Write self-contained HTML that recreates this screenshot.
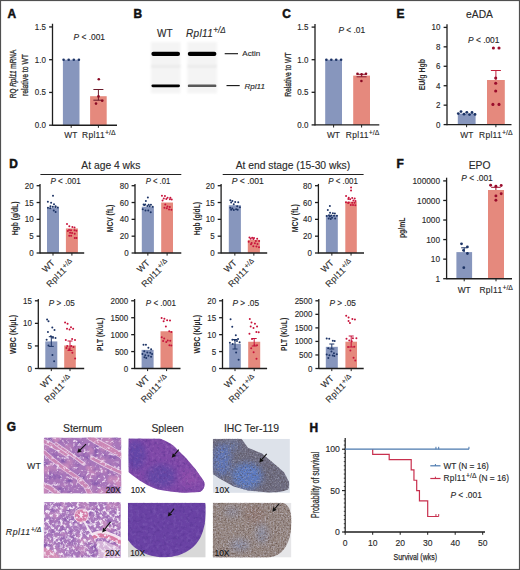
<!DOCTYPE html>
<html><head><meta charset="utf-8"><style>
html,body{margin:0;padding:0;background:#fff;}
svg{display:block;}
text:not([stroke]):not([font-weight="bold"]){stroke:#2a2a2a;stroke-width:0.13px;}
text{font-family:"Liberation Sans", sans-serif;}
</style></head><body>
<svg width="520" height="570" viewBox="0 0 520 570">
<rect x="0" y="0" width="520" height="570" fill="#fff"/>
<text x="7.4" y="17.9" font-size="11.9" text-anchor="start" font-weight="bold" font-style="normal" fill="#111" stroke="#111" stroke-width="0.5">A</text>
<line x1="52.5" y1="23.750000000000004" x2="52.5" y2="125.8" stroke="#1e1e1e" stroke-width="1.3"/>
<line x1="49.1" y1="26.950000000000003" x2="52.5" y2="26.950000000000003" stroke="#1e1e1e" stroke-width="1.3"/>
<text transform="scale(0.95 1)" x="48.32" y="29.974000000000004" font-size="8.4" text-anchor="end" fill="#2a2a2a">1.5</text>
<line x1="49.1" y1="59.7" x2="52.5" y2="59.7" stroke="#1e1e1e" stroke-width="1.3"/>
<text transform="scale(0.95 1)" x="48.32" y="62.724000000000004" font-size="8.4" text-anchor="end" fill="#2a2a2a">1.0</text>
<line x1="49.1" y1="92.45" x2="52.5" y2="92.45" stroke="#1e1e1e" stroke-width="1.3"/>
<text transform="scale(0.95 1)" x="48.32" y="95.474" font-size="8.4" text-anchor="end" fill="#2a2a2a">0.5</text>
<line x1="49.1" y1="125.2" x2="52.5" y2="125.2" stroke="#1e1e1e" stroke-width="1.3"/>
<text transform="scale(0.95 1)" x="48.32" y="128.224" font-size="8.4" text-anchor="end" fill="#2a2a2a">0.0</text>
<rect x="62.9" y="59.7" width="16.6" height="65.5" fill="#8796bd" />
<rect x="90.1" y="96.2" width="16.60000000000001" height="29.0" fill="#e5897d" />
<line x1="52.5" y1="125.2" x2="117" y2="125.2" stroke="#1e1e1e" stroke-width="1.4"/>
<line x1="71.2" y1="125.2" x2="71.2" y2="127.8" stroke="#1e1e1e" stroke-width="1.0"/>
<line x1="98.4" y1="125.2" x2="98.4" y2="127.8" stroke="#1e1e1e" stroke-width="1.0"/>
<circle cx="63.60" cy="59.70" r="1.3" fill="#1d3466"/>
<circle cx="68.70" cy="59.70" r="1.3" fill="#1d3466"/>
<circle cx="73.80" cy="59.70" r="1.3" fill="#1d3466"/>
<circle cx="78.90" cy="59.70" r="1.3" fill="#1d3466"/>
<line x1="98.4" y1="89.5" x2="98.4" y2="100.2" stroke="#6a1a2a" stroke-width="1.0"/>
<line x1="93.4" y1="89.5" x2="103.4" y2="89.5" stroke="#6a1a2a" stroke-width="1.0"/>
<line x1="93.4" y1="100.2" x2="103.4" y2="100.2" stroke="#6a1a2a" stroke-width="1.0"/>
<circle cx="98.80" cy="79.30" r="1.3" fill="#8a0a24"/>
<circle cx="98.50" cy="96.40" r="1.3" fill="#8a0a24"/>
<circle cx="102.20" cy="100.70" r="1.3" fill="#8a0a24"/>
<circle cx="96.00" cy="103.60" r="1.3" fill="#8a0a24"/>
<text x="73.6" y="40.2" font-size="8.4" fill="#2a2a2a"><tspan font-style="italic">P</tspan> &lt; .001</text>
<text x="70.8" y="138.4" font-size="8.4" text-anchor="middle" font-weight="normal" font-style="normal" fill="#2a2a2a" >WT</text>
<text x="82" y="138.4" font-size="8.4" text-anchor="start" font-style="normal" fill="#2a2a2a" ><tspan letter-spacing="0.35">Rpl11</tspan><tspan font-size="6.89" dy="-3.02">+/Δ</tspan></text>
<text transform="translate(16.2,74) rotate(-90)" font-size="9.8" text-anchor="middle" fill="#2a2a2a" stroke="#2a2a2a" stroke-width="0.3" textLength="48.5" lengthAdjust="spacingAndGlyphs">RQ <tspan font-style="italic">Rpl11</tspan> mRNA</text>
<text transform="translate(28,75) rotate(-90)" x="0" y="0" font-size="9.8" text-anchor="middle" font-weight="normal" font-style="normal" fill="#2a2a2a" stroke="#2a2a2a" stroke-width="0.3" textLength="42" lengthAdjust="spacingAndGlyphs">relative to WT</text>
<text x="133.4" y="17.9" font-size="11.9" text-anchor="start" font-weight="bold" font-style="normal" fill="#111" stroke="#111" stroke-width="0.5">B</text>
<text x="157" y="36.6" font-size="10" text-anchor="start" font-weight="normal" font-style="normal" fill="#2a2a2a" >WT</text>
<text x="186" y="36.6" font-size="10" text-anchor="start" font-style="italic" fill="#2a2a2a" ><tspan letter-spacing="0.35">Rpl11</tspan><tspan font-size="8.20" dy="-3.60">+/Δ</tspan></text>
<defs><filter id="bl" x="-20%" y="-200%" width="140%" height="500%"><feGaussianBlur stdDeviation="0.7"/></filter><filter id="bl2" x="-20%" y="-20%" width="140%" height="140%"><feGaussianBlur stdDeviation="1"/></filter></defs>
<g filter="url(#bl2)">
<rect x="150.9" y="42" width="29.6" height="51.3" fill="#f4f4f4" />
<rect x="150.9" y="65.2" width="29.6" height="2.2" fill="#e8e8e8" />
<rect x="187.3" y="42" width="29.6" height="51.3" fill="#f4f4f4" />
<rect x="187.3" y="65.2" width="29.6" height="2.2" fill="#e8e8e8" />
</g>
<g filter="url(#bl)">
<rect x="151.4" y="51.8" width="28.6" height="4.2" rx="2" fill="#000"/>
<rect x="187.8" y="51.8" width="28.6" height="4.2" rx="2" fill="#000"/>
<rect x="151.4" y="84.4" width="28.6" height="2.8" rx="1.4" fill="#050505"/>
<rect x="187.8" y="84.6" width="28.6" height="2.5" rx="1.2" fill="#585858"/>
</g>
<line x1="224.7" y1="53.7" x2="238" y2="53.7" stroke="#111" stroke-width="1.1"/>
<text x="242.3" y="56.4" font-size="8.1" text-anchor="start" font-weight="normal" font-style="normal" fill="#2a2a2a" >Actin</text>
<line x1="226.5" y1="85.6" x2="239.7" y2="85.6" stroke="#111" stroke-width="1.1"/>
<text x="244.4" y="88.8" font-size="8.1" text-anchor="start" font-weight="normal" font-style="italic" fill="#2a2a2a" >Rpl11</text>
<text x="282.3" y="17.7" font-size="11.9" text-anchor="start" font-weight="bold" font-style="normal" fill="#111" stroke="#111" stroke-width="0.5">C</text>
<line x1="315" y1="23.899999999999995" x2="315" y2="125.5" stroke="#1e1e1e" stroke-width="1.3"/>
<line x1="311.6" y1="27.099999999999994" x2="315" y2="27.099999999999994" stroke="#1e1e1e" stroke-width="1.3"/>
<text transform="scale(0.95 1)" x="324.63" y="30.123999999999995" font-size="8.4" text-anchor="end" fill="#2a2a2a">1.5</text>
<line x1="311.6" y1="59.7" x2="315" y2="59.7" stroke="#1e1e1e" stroke-width="1.3"/>
<text transform="scale(0.95 1)" x="324.63" y="62.724000000000004" font-size="8.4" text-anchor="end" fill="#2a2a2a">1.0</text>
<line x1="311.6" y1="92.30000000000001" x2="315" y2="92.30000000000001" stroke="#1e1e1e" stroke-width="1.3"/>
<text transform="scale(0.95 1)" x="324.63" y="95.32400000000001" font-size="8.4" text-anchor="end" fill="#2a2a2a">0.5</text>
<line x1="311.6" y1="124.9" x2="315" y2="124.9" stroke="#1e1e1e" stroke-width="1.3"/>
<text transform="scale(0.95 1)" x="324.63" y="127.924" font-size="8.4" text-anchor="end" fill="#2a2a2a">0.0</text>
<rect x="325.2" y="59.7" width="16.80000000000001" height="65.2" fill="#8796bd" />
<rect x="353.2" y="75.6" width="16.80000000000001" height="49.30000000000001" fill="#e5897d" />
<line x1="315" y1="124.9" x2="379.3" y2="124.9" stroke="#1e1e1e" stroke-width="1.4"/>
<line x1="333.6" y1="124.9" x2="333.6" y2="127.5" stroke="#1e1e1e" stroke-width="1.0"/>
<line x1="361.6" y1="124.9" x2="361.6" y2="127.5" stroke="#1e1e1e" stroke-width="1.0"/>
<circle cx="326.40" cy="59.70" r="1.3" fill="#1d3466"/>
<circle cx="331.30" cy="59.70" r="1.3" fill="#1d3466"/>
<circle cx="336.20" cy="59.70" r="1.3" fill="#1d3466"/>
<circle cx="341.10" cy="59.70" r="1.3" fill="#1d3466"/>
<line x1="361.6" y1="74.3" x2="361.6" y2="76.8" stroke="#8a1a30" stroke-width="1.0"/>
<line x1="356.6" y1="74.3" x2="366.6" y2="74.3" stroke="#8a1a30" stroke-width="1.0"/>
<line x1="356.6" y1="76.8" x2="366.6" y2="76.8" stroke="#8a1a30" stroke-width="1.0"/>
<circle cx="357.50" cy="73.80" r="1.3" fill="#8a0a24"/>
<circle cx="361.60" cy="74.30" r="1.3" fill="#8a0a24"/>
<circle cx="366.00" cy="73.80" r="1.3" fill="#8a0a24"/>
<circle cx="361.40" cy="81.00" r="1.3" fill="#8a0a24"/>
<text x="338.4" y="33.2" font-size="8.4" fill="#2a2a2a"><tspan font-style="italic">P</tspan> &lt; .01</text>
<text x="333.4" y="138.2" font-size="8.4" text-anchor="middle" font-weight="normal" font-style="normal" fill="#2a2a2a" >WT</text>
<text x="345.8" y="138.2" font-size="8.4" text-anchor="start" font-style="normal" fill="#2a2a2a" ><tspan letter-spacing="0.35">Rpl11</tspan><tspan font-size="6.89" dy="-3.02">+/Δ</tspan></text>
<text transform="translate(290.8,74.6) rotate(-90)" x="0" y="0" font-size="9.8" text-anchor="middle" font-weight="normal" font-style="normal" fill="#2a2a2a" stroke="#2a2a2a" stroke-width="0.3" textLength="44.5" lengthAdjust="spacingAndGlyphs">Relative to WT</text>
<text x="396.5" y="17.9" font-size="11.9" text-anchor="start" font-weight="bold" font-style="normal" fill="#111" stroke="#111" stroke-width="0.5">E</text>
<text x="479.5" y="18.4" font-size="10.3" text-anchor="middle" font-weight="normal" font-style="normal" fill="#2a2a2a" >eADA</text>
<line x1="447" y1="24.199999999999992" x2="447" y2="125.19999999999999" stroke="#1e1e1e" stroke-width="1.3"/>
<line x1="443.6" y1="27.39999999999999" x2="447" y2="27.39999999999999" stroke="#1e1e1e" stroke-width="1.3"/>
<text transform="scale(0.95 1)" x="463.58" y="30.423999999999992" font-size="8.4" text-anchor="end" fill="#2a2a2a">10</text>
<line x1="443.6" y1="46.83999999999999" x2="447" y2="46.83999999999999" stroke="#1e1e1e" stroke-width="1.3"/>
<text transform="scale(0.95 1)" x="463.58" y="49.86399999999999" font-size="8.4" text-anchor="end" fill="#2a2a2a">8</text>
<line x1="443.6" y1="66.27999999999999" x2="447" y2="66.27999999999999" stroke="#1e1e1e" stroke-width="1.3"/>
<text transform="scale(0.95 1)" x="463.58" y="69.30399999999999" font-size="8.4" text-anchor="end" fill="#2a2a2a">6</text>
<line x1="443.6" y1="85.72" x2="447" y2="85.72" stroke="#1e1e1e" stroke-width="1.3"/>
<text transform="scale(0.95 1)" x="463.58" y="88.744" font-size="8.4" text-anchor="end" fill="#2a2a2a">4</text>
<line x1="443.6" y1="105.16" x2="447" y2="105.16" stroke="#1e1e1e" stroke-width="1.3"/>
<text transform="scale(0.95 1)" x="463.58" y="108.184" font-size="8.4" text-anchor="end" fill="#2a2a2a">2</text>
<line x1="443.6" y1="124.6" x2="447" y2="124.6" stroke="#1e1e1e" stroke-width="1.3"/>
<text transform="scale(0.95 1)" x="463.58" y="127.624" font-size="8.4" text-anchor="end" fill="#2a2a2a">0</text>
<rect x="457.8" y="113.6" width="17.80000000000001" height="11.0" fill="#8796bd" />
<rect x="487" y="80" width="17.80000000000001" height="44.599999999999994" fill="#e5897d" />
<line x1="447" y1="124.6" x2="511.5" y2="124.6" stroke="#1e1e1e" stroke-width="1.4"/>
<line x1="466.6" y1="124.6" x2="466.6" y2="127.19999999999999" stroke="#1e1e1e" stroke-width="1.0"/>
<line x1="495.9" y1="124.6" x2="495.9" y2="127.19999999999999" stroke="#1e1e1e" stroke-width="1.0"/>
<line x1="495.9" y1="70.5" x2="495.9" y2="80" stroke="#c0203c" stroke-width="1.0"/>
<line x1="490.9" y1="70.5" x2="500.9" y2="70.5" stroke="#c0203c" stroke-width="1.0"/>
<circle cx="458.30" cy="113.60" r="1.4" fill="#1d3466"/>
<circle cx="461.00" cy="111.60" r="1.4" fill="#1d3466"/>
<circle cx="464.00" cy="114.20" r="1.4" fill="#1d3466"/>
<circle cx="466.80" cy="112.30" r="1.4" fill="#1d3466"/>
<circle cx="469.50" cy="114.60" r="1.4" fill="#1d3466"/>
<circle cx="472.00" cy="112.50" r="1.4" fill="#1d3466"/>
<circle cx="475.00" cy="114.40" r="1.4" fill="#1d3466"/>
<circle cx="493.40" cy="48.00" r="1.55" fill="#9a0c2c"/>
<circle cx="499.00" cy="48.00" r="1.55" fill="#9a0c2c"/>
<circle cx="495.70" cy="78.00" r="1.55" fill="#9a0c2c"/>
<circle cx="495.70" cy="83.20" r="1.55" fill="#9a0c2c"/>
<circle cx="495.70" cy="91.00" r="1.55" fill="#9a0c2c"/>
<circle cx="492.90" cy="104.40" r="1.55" fill="#9a0c2c"/>
<circle cx="499.00" cy="104.40" r="1.55" fill="#9a0c2c"/>
<text x="468" y="43.3" font-size="8.4" fill="#2a2a2a"><tspan font-style="italic">P</tspan> &lt; .001</text>
<text x="466.8" y="138.2" font-size="8.4" text-anchor="middle" font-weight="normal" font-style="normal" fill="#2a2a2a" >WT</text>
<text x="479" y="138.2" font-size="8.4" text-anchor="start" font-style="normal" fill="#2a2a2a" ><tspan letter-spacing="0.35">Rpl11</tspan><tspan font-size="6.89" dy="-3.02">+/Δ</tspan></text>
<text transform="translate(425.3,74.6) rotate(-90)" x="0" y="0" font-size="9.8" text-anchor="middle" font-weight="bold" font-style="normal" fill="#2a2a2a" textLength="31.5" lengthAdjust="spacingAndGlyphs">EU/g Hgb</text>
<text x="9.2" y="167.9" font-size="11.9" text-anchor="start" font-weight="bold" font-style="normal" fill="#111" stroke="#111" stroke-width="0.5">D</text>
<text x="110.85" y="168.5" font-size="10.3" text-anchor="middle" font-weight="normal" font-style="normal" fill="#2a2a2a" >At age 4 wks</text>
<line x1="40.4" y1="174.5" x2="181.3" y2="174.5" stroke="#222" stroke-width="1.1"/>
<text x="292.9" y="168.5" font-size="10.3" text-anchor="middle" font-weight="normal" font-style="normal" fill="#2a2a2a" >At end stage (15-30 wks)</text>
<line x1="222.7" y1="174.5" x2="363.6" y2="174.5" stroke="#222" stroke-width="1.1"/>
<line x1="40" y1="183.89999999999998" x2="40" y2="253.6" stroke="#1e1e1e" stroke-width="1.3"/>
<line x1="36.6" y1="185.7" x2="40" y2="185.7" stroke="#1e1e1e" stroke-width="1.3"/>
<text transform="scale(0.95 1)" x="35.37" y="188.724" font-size="8.4" text-anchor="end" fill="#2a2a2a">20</text>
<line x1="36.6" y1="202.52499999999998" x2="40" y2="202.52499999999998" stroke="#1e1e1e" stroke-width="1.3"/>
<text transform="scale(0.95 1)" x="35.37" y="205.54899999999998" font-size="8.4" text-anchor="end" fill="#2a2a2a">15</text>
<line x1="36.6" y1="219.35" x2="40" y2="219.35" stroke="#1e1e1e" stroke-width="1.3"/>
<text transform="scale(0.95 1)" x="35.37" y="222.374" font-size="8.4" text-anchor="end" fill="#2a2a2a">10</text>
<line x1="36.6" y1="236.175" x2="40" y2="236.175" stroke="#1e1e1e" stroke-width="1.3"/>
<text transform="scale(0.95 1)" x="35.37" y="239.199" font-size="8.4" text-anchor="end" fill="#2a2a2a">5</text>
<line x1="36.6" y1="253.0" x2="40" y2="253.0" stroke="#1e1e1e" stroke-width="1.3"/>
<text transform="scale(0.95 1)" x="35.37" y="256.024" font-size="8.4" text-anchor="end" fill="#2a2a2a">0</text>
<rect x="47" y="207.5725" width="12" height="45.42750000000001" fill="#8796bd" />
<rect x="65.9" y="228.4355" width="12.0" height="24.56450000000001" fill="#e5897d" />
<line x1="40" y1="253.0" x2="84.2" y2="253.0" stroke="#1e1e1e" stroke-width="1.4"/>
<line x1="53.0" y1="253.0" x2="53.0" y2="255.6" stroke="#1e1e1e" stroke-width="1.0"/>
<line x1="71.9" y1="253.0" x2="71.9" y2="255.6" stroke="#1e1e1e" stroke-width="1.0"/>
<circle cx="47.86" cy="201.68" r="1.0" fill="#1d3466"/>
<circle cx="51.12" cy="202.81" r="1.0" fill="#1d3466"/>
<circle cx="53.98" cy="204.29" r="1.0" fill="#1d3466"/>
<circle cx="55.60" cy="206.15" r="1.0" fill="#1d3466"/>
<circle cx="50.43" cy="206.32" r="1.0" fill="#1d3466"/>
<circle cx="52.81" cy="206.85" r="1.0" fill="#1d3466"/>
<circle cx="55.43" cy="206.90" r="1.0" fill="#1d3466"/>
<circle cx="57.79" cy="207.50" r="1.0" fill="#1d3466"/>
<circle cx="47.94" cy="207.84" r="1.0" fill="#1d3466"/>
<circle cx="50.17" cy="208.37" r="1.0" fill="#1d3466"/>
<circle cx="53.78" cy="210.41" r="1.0" fill="#1d3466"/>
<circle cx="55.62" cy="212.05" r="1.0" fill="#1d3466"/>
<circle cx="53.00" cy="195.80" r="1.0" fill="#1d3466"/>
<circle cx="67.03" cy="223.94" r="1.0" fill="#c8143c"/>
<circle cx="69.33" cy="226.26" r="1.0" fill="#c8143c"/>
<circle cx="72.40" cy="227.01" r="1.0" fill="#c8143c"/>
<circle cx="74.53" cy="227.53" r="1.0" fill="#c8143c"/>
<circle cx="69.07" cy="229.89" r="1.0" fill="#c8143c"/>
<circle cx="71.03" cy="230.13" r="1.0" fill="#c8143c"/>
<circle cx="74.57" cy="230.23" r="1.0" fill="#c8143c"/>
<circle cx="76.41" cy="230.75" r="1.0" fill="#c8143c"/>
<circle cx="67.80" cy="231.03" r="1.0" fill="#c8143c"/>
<circle cx="70.07" cy="232.78" r="1.0" fill="#c8143c"/>
<circle cx="72.05" cy="233.11" r="1.0" fill="#c8143c"/>
<circle cx="74.70" cy="233.76" r="1.0" fill="#c8143c"/>
<circle cx="69.24" cy="235.68" r="1.0" fill="#c8143c"/>
<circle cx="71.11" cy="235.72" r="1.0" fill="#c8143c"/>
<circle cx="74.73" cy="237.94" r="1.0" fill="#c8143c"/>
<circle cx="76.43" cy="237.97" r="1.0" fill="#c8143c"/>
<text x="50.4" y="184.1" font-size="8.3" fill="#2a2a2a" textLength="30.4" lengthAdjust="spacingAndGlyphs"><tspan font-style="italic">P</tspan> &lt; .001</text>
<text transform="translate(17.6,218.4) rotate(-90)" x="0" y="0" font-size="9.8" text-anchor="middle" font-weight="bold" font-style="normal" fill="#2a2a2a" textLength="33.8" lengthAdjust="spacingAndGlyphs">Hgb (g/dL)</text>
<text transform="translate(55.4,263.4) rotate(-45)" font-size="8.8" text-anchor="end" fill="#2a2a2a">WT</text>
<text transform="translate(74.30000000000001,263.4) rotate(-45)" font-size="8.8" text-anchor="end" fill="#2a2a2a"><tspan letter-spacing="0.35">Rpl11</tspan><tspan font-size="6.8" dy="-3.0">+/Δ</tspan></text>
<line x1="135" y1="183.89999999999998" x2="135" y2="253.6" stroke="#1e1e1e" stroke-width="1.3"/>
<line x1="131.6" y1="185.7" x2="135" y2="185.7" stroke="#1e1e1e" stroke-width="1.3"/>
<text transform="scale(0.95 1)" x="135.37" y="188.724" font-size="8.4" text-anchor="end" fill="#2a2a2a">80</text>
<line x1="131.6" y1="202.52499999999998" x2="135" y2="202.52499999999998" stroke="#1e1e1e" stroke-width="1.3"/>
<text transform="scale(0.95 1)" x="135.37" y="205.54899999999998" font-size="8.4" text-anchor="end" fill="#2a2a2a">60</text>
<line x1="131.6" y1="219.35" x2="135" y2="219.35" stroke="#1e1e1e" stroke-width="1.3"/>
<text transform="scale(0.95 1)" x="135.37" y="222.374" font-size="8.4" text-anchor="end" fill="#2a2a2a">40</text>
<line x1="131.6" y1="236.175" x2="135" y2="236.175" stroke="#1e1e1e" stroke-width="1.3"/>
<text transform="scale(0.95 1)" x="135.37" y="239.199" font-size="8.4" text-anchor="end" fill="#2a2a2a">20</text>
<line x1="131.6" y1="253.0" x2="135" y2="253.0" stroke="#1e1e1e" stroke-width="1.3"/>
<text transform="scale(0.95 1)" x="135.37" y="256.024" font-size="8.4" text-anchor="end" fill="#2a2a2a">0</text>
<rect x="141.8" y="206.73125" width="12.099999999999994" height="46.26875000000001" fill="#8796bd" />
<rect x="161.2" y="202.52499999999998" width="11.800000000000011" height="50.47500000000002" fill="#e5897d" />
<line x1="135" y1="253.0" x2="181.3" y2="253.0" stroke="#1e1e1e" stroke-width="1.4"/>
<line x1="147.85000000000002" y1="253.0" x2="147.85000000000002" y2="255.6" stroke="#1e1e1e" stroke-width="1.0"/>
<line x1="167.1" y1="253.0" x2="167.1" y2="255.6" stroke="#1e1e1e" stroke-width="1.0"/>
<circle cx="143.56" cy="204.51" r="1.0" fill="#1d3466"/>
<circle cx="145.21" cy="204.62" r="1.0" fill="#1d3466"/>
<circle cx="148.67" cy="204.74" r="1.0" fill="#1d3466"/>
<circle cx="150.94" cy="204.86" r="1.0" fill="#1d3466"/>
<circle cx="144.33" cy="205.00" r="1.0" fill="#1d3466"/>
<circle cx="147.38" cy="206.09" r="1.0" fill="#1d3466"/>
<circle cx="149.66" cy="206.29" r="1.0" fill="#1d3466"/>
<circle cx="152.67" cy="206.83" r="1.0" fill="#1d3466"/>
<circle cx="142.74" cy="209.35" r="1.0" fill="#1d3466"/>
<circle cx="145.50" cy="210.44" r="1.0" fill="#1d3466"/>
<circle cx="148.26" cy="210.62" r="1.0" fill="#1d3466"/>
<circle cx="150.72" cy="212.19" r="1.0" fill="#1d3466"/>
<circle cx="147.85" cy="197.50" r="1.0" fill="#1d3466"/>
<circle cx="145.85" cy="201.00" r="1.0" fill="#1d3466"/>
<circle cx="161.96" cy="195.64" r="1.0" fill="#c8143c"/>
<circle cx="164.95" cy="196.06" r="1.0" fill="#c8143c"/>
<circle cx="167.54" cy="197.77" r="1.0" fill="#c8143c"/>
<circle cx="170.37" cy="197.81" r="1.0" fill="#c8143c"/>
<circle cx="163.80" cy="198.50" r="1.0" fill="#c8143c"/>
<circle cx="166.29" cy="199.09" r="1.0" fill="#c8143c"/>
<circle cx="169.90" cy="199.21" r="1.0" fill="#c8143c"/>
<circle cx="171.73" cy="199.60" r="1.0" fill="#c8143c"/>
<circle cx="162.54" cy="200.61" r="1.0" fill="#c8143c"/>
<circle cx="165.29" cy="204.45" r="1.0" fill="#c8143c"/>
<circle cx="167.47" cy="206.48" r="1.0" fill="#c8143c"/>
<circle cx="169.83" cy="206.95" r="1.0" fill="#c8143c"/>
<circle cx="164.44" cy="207.74" r="1.0" fill="#c8143c"/>
<circle cx="166.73" cy="208.22" r="1.0" fill="#c8143c"/>
<circle cx="169.05" cy="209.55" r="1.0" fill="#c8143c"/>
<circle cx="171.38" cy="209.83" r="1.0" fill="#c8143c"/>
<text x="145.7" y="184.1" font-size="8.3" fill="#2a2a2a" textLength="24.6" lengthAdjust="spacingAndGlyphs"><tspan font-style="italic">P</tspan> &lt; .01</text>
<text transform="translate(112.9,218.4) rotate(-90)" x="0" y="0" font-size="9.8" text-anchor="middle" font-weight="bold" font-style="normal" fill="#2a2a2a" textLength="27.5" lengthAdjust="spacingAndGlyphs">MCV (fL)</text>
<text transform="translate(150.25000000000003,263.4) rotate(-45)" font-size="8.8" text-anchor="end" fill="#2a2a2a">WT</text>
<text transform="translate(169.5,263.4) rotate(-45)" font-size="8.8" text-anchor="end" fill="#2a2a2a"><tspan letter-spacing="0.35">Rpl11</tspan><tspan font-size="6.8" dy="-3.0">+/Δ</tspan></text>
<line x1="221.1" y1="183.89999999999998" x2="221.1" y2="253.6" stroke="#1e1e1e" stroke-width="1.3"/>
<line x1="217.7" y1="185.7" x2="221.1" y2="185.7" stroke="#1e1e1e" stroke-width="1.3"/>
<text transform="scale(0.95 1)" x="226.00" y="188.724" font-size="8.4" text-anchor="end" fill="#2a2a2a">20</text>
<line x1="217.7" y1="202.52499999999998" x2="221.1" y2="202.52499999999998" stroke="#1e1e1e" stroke-width="1.3"/>
<text transform="scale(0.95 1)" x="226.00" y="205.54899999999998" font-size="8.4" text-anchor="end" fill="#2a2a2a">15</text>
<line x1="217.7" y1="219.35" x2="221.1" y2="219.35" stroke="#1e1e1e" stroke-width="1.3"/>
<text transform="scale(0.95 1)" x="226.00" y="222.374" font-size="8.4" text-anchor="end" fill="#2a2a2a">10</text>
<line x1="217.7" y1="236.175" x2="221.1" y2="236.175" stroke="#1e1e1e" stroke-width="1.3"/>
<text transform="scale(0.95 1)" x="226.00" y="239.199" font-size="8.4" text-anchor="end" fill="#2a2a2a">5</text>
<line x1="217.7" y1="253.0" x2="221.1" y2="253.0" stroke="#1e1e1e" stroke-width="1.3"/>
<text transform="scale(0.95 1)" x="226.00" y="256.024" font-size="8.4" text-anchor="end" fill="#2a2a2a">0</text>
<rect x="228.8" y="205.21699999999998" width="12.099999999999994" height="47.783000000000015" fill="#8796bd" />
<rect x="247.8" y="239.8765" width="12.099999999999966" height="13.123500000000007" fill="#e5897d" />
<line x1="221.1" y1="253.0" x2="267.2" y2="253.0" stroke="#1e1e1e" stroke-width="1.4"/>
<line x1="234.85000000000002" y1="253.0" x2="234.85000000000002" y2="255.6" stroke="#1e1e1e" stroke-width="1.0"/>
<line x1="253.85" y1="253.0" x2="253.85" y2="255.6" stroke="#1e1e1e" stroke-width="1.0"/>
<circle cx="230.32" cy="200.21" r="1.0" fill="#1d3466"/>
<circle cx="232.35" cy="200.90" r="1.0" fill="#1d3466"/>
<circle cx="235.21" cy="201.88" r="1.0" fill="#1d3466"/>
<circle cx="238.26" cy="202.33" r="1.0" fill="#1d3466"/>
<circle cx="231.18" cy="202.52" r="1.0" fill="#1d3466"/>
<circle cx="233.77" cy="204.27" r="1.0" fill="#1d3466"/>
<circle cx="237.17" cy="206.20" r="1.0" fill="#1d3466"/>
<circle cx="239.92" cy="207.27" r="1.0" fill="#1d3466"/>
<circle cx="230.34" cy="207.64" r="1.0" fill="#1d3466"/>
<circle cx="232.34" cy="208.53" r="1.0" fill="#1d3466"/>
<circle cx="236.10" cy="209.15" r="1.0" fill="#1d3466"/>
<circle cx="237.64" cy="209.77" r="1.0" fill="#1d3466"/>
<circle cx="231.12" cy="209.87" r="1.0" fill="#1d3466"/>
<circle cx="233.82" cy="210.00" r="1.0" fill="#1d3466"/>
<circle cx="249.44" cy="237.48" r="1.0" fill="#c8143c"/>
<circle cx="252.16" cy="237.65" r="1.0" fill="#c8143c"/>
<circle cx="254.03" cy="237.91" r="1.0" fill="#c8143c"/>
<circle cx="257.16" cy="238.63" r="1.0" fill="#c8143c"/>
<circle cx="250.68" cy="238.72" r="1.0" fill="#c8143c"/>
<circle cx="253.38" cy="239.08" r="1.0" fill="#c8143c"/>
<circle cx="255.88" cy="240.96" r="1.0" fill="#c8143c"/>
<circle cx="259.10" cy="241.02" r="1.0" fill="#c8143c"/>
<circle cx="248.69" cy="241.80" r="1.0" fill="#c8143c"/>
<circle cx="251.66" cy="243.08" r="1.0" fill="#c8143c"/>
<circle cx="254.88" cy="243.20" r="1.0" fill="#c8143c"/>
<circle cx="257.48" cy="243.94" r="1.0" fill="#c8143c"/>
<circle cx="250.98" cy="244.28" r="1.0" fill="#c8143c"/>
<circle cx="253.34" cy="246.30" r="1.0" fill="#c8143c"/>
<circle cx="256.45" cy="246.49" r="1.0" fill="#c8143c"/>
<circle cx="259.00" cy="247.20" r="1.0" fill="#c8143c"/>
<text x="231.8" y="184.1" font-size="8.3" fill="#2a2a2a" textLength="32" lengthAdjust="spacingAndGlyphs"><tspan font-style="italic">P</tspan> &lt; .001</text>
<text transform="translate(199.8,218.7) rotate(-90)" x="0" y="0" font-size="9.8" text-anchor="middle" font-weight="bold" font-style="normal" fill="#2a2a2a" textLength="33.2" lengthAdjust="spacingAndGlyphs">Hgb (g/dL)</text>
<text transform="translate(237.25000000000003,263.4) rotate(-45)" font-size="8.8" text-anchor="end" fill="#2a2a2a">WT</text>
<text transform="translate(256.25,263.4) rotate(-45)" font-size="8.8" text-anchor="end" fill="#2a2a2a"><tspan letter-spacing="0.35">Rpl11</tspan><tspan font-size="6.8" dy="-3.0">+/Δ</tspan></text>
<line x1="318.4" y1="183.89999999999998" x2="318.4" y2="253.6" stroke="#1e1e1e" stroke-width="1.3"/>
<line x1="315.0" y1="185.7" x2="318.4" y2="185.7" stroke="#1e1e1e" stroke-width="1.3"/>
<text transform="scale(0.95 1)" x="328.42" y="188.724" font-size="8.4" text-anchor="end" fill="#2a2a2a">80</text>
<line x1="315.0" y1="202.52499999999998" x2="318.4" y2="202.52499999999998" stroke="#1e1e1e" stroke-width="1.3"/>
<text transform="scale(0.95 1)" x="328.42" y="205.54899999999998" font-size="8.4" text-anchor="end" fill="#2a2a2a">60</text>
<line x1="315.0" y1="219.35" x2="318.4" y2="219.35" stroke="#1e1e1e" stroke-width="1.3"/>
<text transform="scale(0.95 1)" x="328.42" y="222.374" font-size="8.4" text-anchor="end" fill="#2a2a2a">40</text>
<line x1="315.0" y1="236.175" x2="318.4" y2="236.175" stroke="#1e1e1e" stroke-width="1.3"/>
<text transform="scale(0.95 1)" x="328.42" y="239.199" font-size="8.4" text-anchor="end" fill="#2a2a2a">20</text>
<line x1="315.0" y1="253.0" x2="318.4" y2="253.0" stroke="#1e1e1e" stroke-width="1.3"/>
<text transform="scale(0.95 1)" x="328.42" y="256.024" font-size="8.4" text-anchor="end" fill="#2a2a2a">0</text>
<rect x="325.9" y="215.14374999999998" width="11.900000000000034" height="37.85625000000002" fill="#8796bd" />
<rect x="345.3" y="201.68374999999997" width="11.5" height="51.316250000000025" fill="#e5897d" />
<line x1="318.4" y1="253.0" x2="364" y2="253.0" stroke="#1e1e1e" stroke-width="1.4"/>
<line x1="331.85" y1="253.0" x2="331.85" y2="255.6" stroke="#1e1e1e" stroke-width="1.0"/>
<line x1="351.05" y1="253.0" x2="351.05" y2="255.6" stroke="#1e1e1e" stroke-width="1.0"/>
<circle cx="327.79" cy="209.88" r="1.0" fill="#1d3466"/>
<circle cx="330.06" cy="212.87" r="1.0" fill="#1d3466"/>
<circle cx="332.87" cy="213.21" r="1.0" fill="#1d3466"/>
<circle cx="334.87" cy="213.59" r="1.0" fill="#1d3466"/>
<circle cx="328.98" cy="215.30" r="1.0" fill="#1d3466"/>
<circle cx="331.20" cy="215.41" r="1.0" fill="#1d3466"/>
<circle cx="334.03" cy="215.70" r="1.0" fill="#1d3466"/>
<circle cx="336.91" cy="215.87" r="1.0" fill="#1d3466"/>
<circle cx="326.70" cy="216.03" r="1.0" fill="#1d3466"/>
<circle cx="329.90" cy="216.54" r="1.0" fill="#1d3466"/>
<circle cx="332.04" cy="217.70" r="1.0" fill="#1d3466"/>
<circle cx="335.12" cy="218.50" r="1.0" fill="#1d3466"/>
<circle cx="328.68" cy="218.58" r="1.0" fill="#1d3466"/>
<circle cx="330.78" cy="218.91" r="1.0" fill="#1d3466"/>
<circle cx="329.85" cy="206.00" r="1.0" fill="#1d3466"/>
<circle cx="346.04" cy="196.11" r="1.0" fill="#c8143c"/>
<circle cx="348.72" cy="197.70" r="1.0" fill="#c8143c"/>
<circle cx="352.17" cy="198.03" r="1.0" fill="#c8143c"/>
<circle cx="354.70" cy="198.56" r="1.0" fill="#c8143c"/>
<circle cx="348.36" cy="199.01" r="1.0" fill="#c8143c"/>
<circle cx="350.16" cy="199.27" r="1.0" fill="#c8143c"/>
<circle cx="353.40" cy="200.42" r="1.0" fill="#c8143c"/>
<circle cx="355.48" cy="200.97" r="1.0" fill="#c8143c"/>
<circle cx="345.96" cy="202.15" r="1.0" fill="#c8143c"/>
<circle cx="348.80" cy="202.60" r="1.0" fill="#c8143c"/>
<circle cx="352.20" cy="202.66" r="1.0" fill="#c8143c"/>
<circle cx="354.62" cy="202.78" r="1.0" fill="#c8143c"/>
<circle cx="348.15" cy="202.98" r="1.0" fill="#c8143c"/>
<circle cx="350.84" cy="204.92" r="1.0" fill="#c8143c"/>
<circle cx="353.03" cy="205.06" r="1.0" fill="#c8143c"/>
<circle cx="355.30" cy="205.20" r="1.0" fill="#c8143c"/>
<circle cx="351.05" cy="187.50" r="1.0" fill="#c8143c"/>
<circle cx="351.05" cy="190.50" r="1.0" fill="#c8143c"/>
<text x="328.2" y="184.1" font-size="8.3" fill="#2a2a2a" textLength="29.7" lengthAdjust="spacingAndGlyphs"><tspan font-style="italic">P</tspan> &lt; .001</text>
<text transform="translate(297.8,218.2) rotate(-90)" x="0" y="0" font-size="9.8" text-anchor="middle" font-weight="bold" font-style="normal" fill="#2a2a2a" textLength="28" lengthAdjust="spacingAndGlyphs">MCV (fL)</text>
<text transform="translate(334.25,263.4) rotate(-45)" font-size="8.8" text-anchor="end" fill="#2a2a2a">WT</text>
<text transform="translate(353.45,263.4) rotate(-45)" font-size="8.8" text-anchor="end" fill="#2a2a2a"><tspan letter-spacing="0.35">Rpl11</tspan><tspan font-size="6.8" dy="-3.0">+/Δ</tspan></text>
<line x1="38.3" y1="299.0" x2="38.3" y2="369.1" stroke="#1e1e1e" stroke-width="1.3"/>
<line x1="34.9" y1="300.8" x2="38.3" y2="300.8" stroke="#1e1e1e" stroke-width="1.3"/>
<text transform="scale(0.95 1)" x="33.58" y="303.824" font-size="8.4" text-anchor="end" fill="#2a2a2a">15</text>
<line x1="34.9" y1="323.3666666666667" x2="38.3" y2="323.3666666666667" stroke="#1e1e1e" stroke-width="1.3"/>
<text transform="scale(0.95 1)" x="33.58" y="326.3906666666667" font-size="8.4" text-anchor="end" fill="#2a2a2a">10</text>
<line x1="34.9" y1="345.93333333333334" x2="38.3" y2="345.93333333333334" stroke="#1e1e1e" stroke-width="1.3"/>
<text transform="scale(0.95 1)" x="33.58" y="348.95733333333334" font-size="8.4" text-anchor="end" fill="#2a2a2a">5</text>
<line x1="34.9" y1="368.5" x2="38.3" y2="368.5" stroke="#1e1e1e" stroke-width="1.3"/>
<text transform="scale(0.95 1)" x="33.58" y="371.524" font-size="8.4" text-anchor="end" fill="#2a2a2a">0</text>
<rect x="45.3" y="341.42" width="12.0" height="27.079999999999984" fill="#8796bd" />
<rect x="64.2" y="345.482" width="11.599999999999994" height="23.017999999999972" fill="#e5897d" />
<line x1="38.3" y1="368.5" x2="84.2" y2="368.5" stroke="#1e1e1e" stroke-width="1.4"/>
<line x1="51.3" y1="368.5" x2="51.3" y2="371.1" stroke="#1e1e1e" stroke-width="1.0"/>
<line x1="70.0" y1="368.5" x2="70.0" y2="371.1" stroke="#1e1e1e" stroke-width="1.0"/>
<line x1="51.3" y1="336.7" x2="51.3" y2="346.4" stroke="#1d3466" stroke-width="1.0"/>
<line x1="48.8" y1="336.7" x2="53.8" y2="336.7" stroke="#1d3466" stroke-width="1.0"/>
<line x1="48.8" y1="346.4" x2="53.8" y2="346.4" stroke="#1d3466" stroke-width="1.0"/>
<line x1="70.0" y1="341" x2="70.0" y2="350.5" stroke="#c8143c" stroke-width="1.0"/>
<line x1="67.5" y1="341" x2="72.5" y2="341" stroke="#c8143c" stroke-width="1.0"/>
<line x1="67.5" y1="350.5" x2="72.5" y2="350.5" stroke="#c8143c" stroke-width="1.0"/>
<circle cx="47.10" cy="319.39" r="1.0" fill="#1d3466"/>
<circle cx="48.50" cy="321.29" r="1.0" fill="#1d3466"/>
<circle cx="52.30" cy="327.42" r="1.0" fill="#1d3466"/>
<circle cx="54.53" cy="330.11" r="1.0" fill="#1d3466"/>
<circle cx="47.92" cy="331.88" r="1.0" fill="#1d3466"/>
<circle cx="50.90" cy="336.22" r="1.0" fill="#1d3466"/>
<circle cx="52.97" cy="337.83" r="1.0" fill="#1d3466"/>
<circle cx="55.51" cy="337.91" r="1.0" fill="#1d3466"/>
<circle cx="46.60" cy="339.73" r="1.0" fill="#1d3466"/>
<circle cx="48.48" cy="345.53" r="1.0" fill="#1d3466"/>
<circle cx="52.45" cy="354.92" r="1.0" fill="#1d3466"/>
<circle cx="54.13" cy="361.21" r="1.0" fill="#1d3466"/>
<circle cx="65.08" cy="322.41" r="1.0" fill="#c8143c"/>
<circle cx="67.56" cy="323.78" r="1.0" fill="#c8143c"/>
<circle cx="70.99" cy="327.35" r="1.0" fill="#c8143c"/>
<circle cx="73.17" cy="328.79" r="1.0" fill="#c8143c"/>
<circle cx="66.99" cy="328.81" r="1.0" fill="#c8143c"/>
<circle cx="69.56" cy="329.57" r="1.0" fill="#c8143c"/>
<circle cx="72.12" cy="338.97" r="1.0" fill="#c8143c"/>
<circle cx="75.00" cy="339.94" r="1.0" fill="#c8143c"/>
<circle cx="65.84" cy="340.06" r="1.0" fill="#c8143c"/>
<circle cx="67.25" cy="345.91" r="1.0" fill="#c8143c"/>
<circle cx="71.27" cy="345.94" r="1.0" fill="#c8143c"/>
<circle cx="73.42" cy="346.89" r="1.0" fill="#c8143c"/>
<circle cx="66.41" cy="348.01" r="1.0" fill="#c8143c"/>
<circle cx="69.19" cy="349.14" r="1.0" fill="#c8143c"/>
<circle cx="72.40" cy="352.68" r="1.0" fill="#c8143c"/>
<circle cx="75.14" cy="358.42" r="1.0" fill="#c8143c"/>
<text x="48.8" y="306.1" font-size="8.3" fill="#2a2a2a" textLength="25.9" lengthAdjust="spacingAndGlyphs"><tspan font-style="italic">P</tspan> &gt; .05</text>
<text transform="translate(16.2,334.4) rotate(-90)" x="0" y="0" font-size="9.8" text-anchor="middle" font-weight="bold" font-style="normal" fill="#2a2a2a" textLength="39" lengthAdjust="spacingAndGlyphs">WBC (K/µL)</text>
<text transform="translate(53.699999999999996,378.9) rotate(-45)" font-size="8.8" text-anchor="end" fill="#2a2a2a">WT</text>
<text transform="translate(72.4,378.9) rotate(-45)" font-size="8.8" text-anchor="end" fill="#2a2a2a"><tspan letter-spacing="0.35">Rpl11</tspan><tspan font-size="6.8" dy="-3.0">+/Δ</tspan></text>
<line x1="134.6" y1="299.0" x2="134.6" y2="369.1" stroke="#1e1e1e" stroke-width="1.3"/>
<line x1="131.2" y1="300.8" x2="134.6" y2="300.8" stroke="#1e1e1e" stroke-width="1.3"/>
<text transform="scale(0.95 1)" x="134.95" y="303.824" font-size="8.4" text-anchor="end" fill="#2a2a2a">2000</text>
<line x1="131.2" y1="317.725" x2="134.6" y2="317.725" stroke="#1e1e1e" stroke-width="1.3"/>
<text transform="scale(0.95 1)" x="134.95" y="320.749" font-size="8.4" text-anchor="end" fill="#2a2a2a">1500</text>
<line x1="131.2" y1="334.65" x2="134.6" y2="334.65" stroke="#1e1e1e" stroke-width="1.3"/>
<text transform="scale(0.95 1)" x="134.95" y="337.674" font-size="8.4" text-anchor="end" fill="#2a2a2a">1000</text>
<line x1="131.2" y1="351.575" x2="134.6" y2="351.575" stroke="#1e1e1e" stroke-width="1.3"/>
<text transform="scale(0.95 1)" x="134.95" y="354.599" font-size="8.4" text-anchor="end" fill="#2a2a2a">500</text>
<line x1="131.2" y1="368.5" x2="134.6" y2="368.5" stroke="#1e1e1e" stroke-width="1.3"/>
<text transform="scale(0.95 1)" x="134.95" y="371.524" font-size="8.4" text-anchor="end" fill="#2a2a2a">0</text>
<rect x="141.6" y="349.8825" width="12.0" height="18.617500000000007" fill="#8796bd" />
<rect x="160.5" y="331.265" width="12.199999999999989" height="37.235000000000014" fill="#e5897d" />
<line x1="134.6" y1="368.5" x2="180.5" y2="368.5" stroke="#1e1e1e" stroke-width="1.4"/>
<line x1="147.6" y1="368.5" x2="147.6" y2="371.1" stroke="#1e1e1e" stroke-width="1.0"/>
<line x1="166.6" y1="368.5" x2="166.6" y2="371.1" stroke="#1e1e1e" stroke-width="1.0"/>
<circle cx="143.53" cy="344.69" r="1.0" fill="#1d3466"/>
<circle cx="145.92" cy="344.84" r="1.0" fill="#1d3466"/>
<circle cx="148.39" cy="347.78" r="1.0" fill="#1d3466"/>
<circle cx="151.10" cy="349.35" r="1.0" fill="#1d3466"/>
<circle cx="144.23" cy="351.24" r="1.0" fill="#1d3466"/>
<circle cx="147.34" cy="352.55" r="1.0" fill="#1d3466"/>
<circle cx="150.28" cy="352.72" r="1.0" fill="#1d3466"/>
<circle cx="152.07" cy="353.92" r="1.0" fill="#1d3466"/>
<circle cx="142.45" cy="353.99" r="1.0" fill="#1d3466"/>
<circle cx="145.28" cy="355.34" r="1.0" fill="#1d3466"/>
<circle cx="148.41" cy="355.73" r="1.0" fill="#1d3466"/>
<circle cx="151.07" cy="356.83" r="1.0" fill="#1d3466"/>
<circle cx="144.43" cy="357.20" r="1.0" fill="#1d3466"/>
<circle cx="146.28" cy="358.00" r="1.0" fill="#1d3466"/>
<circle cx="161.62" cy="317.99" r="1.0" fill="#c8143c"/>
<circle cx="164.38" cy="318.67" r="1.0" fill="#c8143c"/>
<circle cx="167.10" cy="320.36" r="1.0" fill="#c8143c"/>
<circle cx="170.02" cy="320.61" r="1.0" fill="#c8143c"/>
<circle cx="163.62" cy="321.36" r="1.0" fill="#c8143c"/>
<circle cx="165.88" cy="326.39" r="1.0" fill="#c8143c"/>
<circle cx="169.26" cy="331.27" r="1.0" fill="#c8143c"/>
<circle cx="171.32" cy="332.01" r="1.0" fill="#c8143c"/>
<circle cx="161.72" cy="337.37" r="1.0" fill="#c8143c"/>
<circle cx="164.21" cy="338.43" r="1.0" fill="#c8143c"/>
<circle cx="167.76" cy="340.43" r="1.0" fill="#c8143c"/>
<circle cx="170.23" cy="340.80" r="1.0" fill="#c8143c"/>
<circle cx="163.10" cy="341.08" r="1.0" fill="#c8143c"/>
<circle cx="166.27" cy="342.04" r="1.0" fill="#c8143c"/>
<circle cx="169.41" cy="345.32" r="1.0" fill="#c8143c"/>
<circle cx="171.28" cy="345.42" r="1.0" fill="#c8143c"/>
<text x="145.8" y="306.1" font-size="8.3" fill="#2a2a2a" textLength="30.1" lengthAdjust="spacingAndGlyphs"><tspan font-style="italic">P</tspan> &lt; .001</text>
<text transform="translate(102.9,334.4) rotate(-90)" x="0" y="0" font-size="9.8" text-anchor="middle" font-weight="bold" font-style="normal" fill="#2a2a2a" textLength="33" lengthAdjust="spacingAndGlyphs">PLT (K/uL)</text>
<text transform="translate(150.0,378.9) rotate(-45)" font-size="8.8" text-anchor="end" fill="#2a2a2a">WT</text>
<text transform="translate(169.0,378.9) rotate(-45)" font-size="8.8" text-anchor="end" fill="#2a2a2a"><tspan letter-spacing="0.35">Rpl11</tspan><tspan font-size="6.8" dy="-3.0">+/Δ</tspan></text>
<line x1="222.5" y1="299.0" x2="222.5" y2="369.1" stroke="#1e1e1e" stroke-width="1.3"/>
<line x1="219.1" y1="300.8" x2="222.5" y2="300.8" stroke="#1e1e1e" stroke-width="1.3"/>
<text transform="scale(0.95 1)" x="227.47" y="303.824" font-size="8.4" text-anchor="end" fill="#2a2a2a">20</text>
<line x1="219.1" y1="317.725" x2="222.5" y2="317.725" stroke="#1e1e1e" stroke-width="1.3"/>
<text transform="scale(0.95 1)" x="227.47" y="320.749" font-size="8.4" text-anchor="end" fill="#2a2a2a">15</text>
<line x1="219.1" y1="334.65" x2="222.5" y2="334.65" stroke="#1e1e1e" stroke-width="1.3"/>
<text transform="scale(0.95 1)" x="227.47" y="337.674" font-size="8.4" text-anchor="end" fill="#2a2a2a">10</text>
<line x1="219.1" y1="351.575" x2="222.5" y2="351.575" stroke="#1e1e1e" stroke-width="1.3"/>
<text transform="scale(0.95 1)" x="227.47" y="354.599" font-size="8.4" text-anchor="end" fill="#2a2a2a">5</text>
<line x1="219.1" y1="368.5" x2="222.5" y2="368.5" stroke="#1e1e1e" stroke-width="1.3"/>
<text transform="scale(0.95 1)" x="227.47" y="371.524" font-size="8.4" text-anchor="end" fill="#2a2a2a">0</text>
<rect x="229.2" y="343.7895" width="11.600000000000023" height="24.710500000000025" fill="#8796bd" />
<rect x="248.2" y="341.7585" width="12.0" height="26.741499999999974" fill="#e5897d" />
<line x1="222.5" y1="368.5" x2="267.1" y2="368.5" stroke="#1e1e1e" stroke-width="1.4"/>
<line x1="235.0" y1="368.5" x2="235.0" y2="371.1" stroke="#1e1e1e" stroke-width="1.0"/>
<line x1="254.2" y1="368.5" x2="254.2" y2="371.1" stroke="#1e1e1e" stroke-width="1.0"/>
<line x1="235.0" y1="339.5" x2="235.0" y2="349" stroke="#1d3466" stroke-width="1.0"/>
<line x1="232.5" y1="339.5" x2="237.5" y2="339.5" stroke="#1d3466" stroke-width="1.0"/>
<line x1="232.5" y1="349" x2="237.5" y2="349" stroke="#1d3466" stroke-width="1.0"/>
<line x1="254.2" y1="338.5" x2="254.2" y2="346" stroke="#c8143c" stroke-width="1.0"/>
<line x1="251.7" y1="338.5" x2="256.7" y2="338.5" stroke="#c8143c" stroke-width="1.0"/>
<line x1="251.7" y1="346" x2="256.7" y2="346" stroke="#c8143c" stroke-width="1.0"/>
<circle cx="230.58" cy="319.19" r="1.0" fill="#1d3466"/>
<circle cx="232.23" cy="326.64" r="1.0" fill="#1d3466"/>
<circle cx="235.80" cy="335.23" r="1.0" fill="#1d3466"/>
<circle cx="238.05" cy="339.11" r="1.0" fill="#1d3466"/>
<circle cx="232.40" cy="339.64" r="1.0" fill="#1d3466"/>
<circle cx="234.76" cy="340.19" r="1.0" fill="#1d3466"/>
<circle cx="236.97" cy="341.04" r="1.0" fill="#1d3466"/>
<circle cx="239.62" cy="342.20" r="1.0" fill="#1d3466"/>
<circle cx="229.90" cy="342.64" r="1.0" fill="#1d3466"/>
<circle cx="232.67" cy="344.02" r="1.0" fill="#1d3466"/>
<circle cx="236.13" cy="352.45" r="1.0" fill="#1d3466"/>
<circle cx="238.63" cy="359.68" r="1.0" fill="#1d3466"/>
<circle cx="249.83" cy="319.00" r="1.0" fill="#c8143c"/>
<circle cx="251.50" cy="322.61" r="1.0" fill="#c8143c"/>
<circle cx="254.96" cy="323.70" r="1.0" fill="#c8143c"/>
<circle cx="257.05" cy="326.42" r="1.0" fill="#c8143c"/>
<circle cx="250.69" cy="326.54" r="1.0" fill="#c8143c"/>
<circle cx="253.49" cy="328.00" r="1.0" fill="#c8143c"/>
<circle cx="256.37" cy="331.96" r="1.0" fill="#c8143c"/>
<circle cx="258.70" cy="332.17" r="1.0" fill="#c8143c"/>
<circle cx="249.45" cy="333.64" r="1.0" fill="#c8143c"/>
<circle cx="251.99" cy="338.97" r="1.0" fill="#c8143c"/>
<circle cx="254.54" cy="345.19" r="1.0" fill="#c8143c"/>
<circle cx="257.00" cy="345.27" r="1.0" fill="#c8143c"/>
<circle cx="251.21" cy="348.23" r="1.0" fill="#c8143c"/>
<circle cx="253.62" cy="352.29" r="1.0" fill="#c8143c"/>
<circle cx="256.49" cy="358.71" r="1.0" fill="#c8143c"/>
<text x="232.4" y="306.1" font-size="8.3" fill="#2a2a2a" textLength="26.7" lengthAdjust="spacingAndGlyphs"><tspan font-style="italic">P</tspan> &gt; .05</text>
<text transform="translate(200,334.2) rotate(-90)" x="0" y="0" font-size="9.8" text-anchor="middle" font-weight="bold" font-style="normal" fill="#2a2a2a" textLength="38.5" lengthAdjust="spacingAndGlyphs">WBC (K/µL)</text>
<text transform="translate(237.4,378.9) rotate(-45)" font-size="8.8" text-anchor="end" fill="#2a2a2a">WT</text>
<text transform="translate(256.59999999999997,378.9) rotate(-45)" font-size="8.8" text-anchor="end" fill="#2a2a2a"><tspan letter-spacing="0.35">Rpl11</tspan><tspan font-size="6.8" dy="-3.0">+/Δ</tspan></text>
<line x1="318.8" y1="299.0" x2="318.8" y2="369.1" stroke="#1e1e1e" stroke-width="1.3"/>
<line x1="315.40000000000003" y1="300.8" x2="318.8" y2="300.8" stroke="#1e1e1e" stroke-width="1.3"/>
<text transform="scale(0.95 1)" x="328.84" y="303.824" font-size="8.4" text-anchor="end" fill="#2a2a2a">2500</text>
<line x1="315.40000000000003" y1="314.34000000000003" x2="318.8" y2="314.34000000000003" stroke="#1e1e1e" stroke-width="1.3"/>
<text transform="scale(0.95 1)" x="328.84" y="317.36400000000003" font-size="8.4" text-anchor="end" fill="#2a2a2a">2000</text>
<line x1="315.40000000000003" y1="327.88" x2="318.8" y2="327.88" stroke="#1e1e1e" stroke-width="1.3"/>
<text transform="scale(0.95 1)" x="328.84" y="330.904" font-size="8.4" text-anchor="end" fill="#2a2a2a">1500</text>
<line x1="315.40000000000003" y1="341.42" x2="318.8" y2="341.42" stroke="#1e1e1e" stroke-width="1.3"/>
<text transform="scale(0.95 1)" x="328.84" y="344.444" font-size="8.4" text-anchor="end" fill="#2a2a2a">1000</text>
<line x1="315.40000000000003" y1="354.96" x2="318.8" y2="354.96" stroke="#1e1e1e" stroke-width="1.3"/>
<text transform="scale(0.95 1)" x="328.84" y="357.984" font-size="8.4" text-anchor="end" fill="#2a2a2a">500</text>
<line x1="315.40000000000003" y1="368.5" x2="318.8" y2="368.5" stroke="#1e1e1e" stroke-width="1.3"/>
<text transform="scale(0.95 1)" x="328.84" y="371.524" font-size="8.4" text-anchor="end" fill="#2a2a2a">0</text>
<rect x="325.8" y="346.836" width="12.0" height="21.663999999999987" fill="#8796bd" />
<rect x="345.4" y="341.6908" width="11.600000000000023" height="26.809199999999976" fill="#e5897d" />
<line x1="318.8" y1="368.5" x2="363.7" y2="368.5" stroke="#1e1e1e" stroke-width="1.4"/>
<line x1="331.8" y1="368.5" x2="331.8" y2="371.1" stroke="#1e1e1e" stroke-width="1.0"/>
<line x1="351.2" y1="368.5" x2="351.2" y2="371.1" stroke="#1e1e1e" stroke-width="1.0"/>
<line x1="331.8" y1="344" x2="331.8" y2="349" stroke="#1d3466" stroke-width="1.0"/>
<line x1="329.3" y1="344" x2="334.3" y2="344" stroke="#1d3466" stroke-width="1.0"/>
<line x1="329.3" y1="349" x2="334.3" y2="349" stroke="#1d3466" stroke-width="1.0"/>
<line x1="351.2" y1="336" x2="351.2" y2="347" stroke="#c8143c" stroke-width="1.0"/>
<line x1="348.7" y1="336" x2="353.7" y2="336" stroke="#c8143c" stroke-width="1.0"/>
<line x1="348.7" y1="347" x2="353.7" y2="347" stroke="#c8143c" stroke-width="1.0"/>
<circle cx="326.71" cy="338.45" r="1.0" fill="#1d3466"/>
<circle cx="329.24" cy="338.82" r="1.0" fill="#1d3466"/>
<circle cx="332.82" cy="340.87" r="1.0" fill="#1d3466"/>
<circle cx="334.66" cy="340.90" r="1.0" fill="#1d3466"/>
<circle cx="328.17" cy="348.29" r="1.0" fill="#1d3466"/>
<circle cx="331.45" cy="351.52" r="1.0" fill="#1d3466"/>
<circle cx="333.96" cy="353.26" r="1.0" fill="#1d3466"/>
<circle cx="336.80" cy="354.28" r="1.0" fill="#1d3466"/>
<circle cx="326.70" cy="354.42" r="1.0" fill="#1d3466"/>
<circle cx="329.43" cy="355.19" r="1.0" fill="#1d3466"/>
<circle cx="332.77" cy="355.57" r="1.0" fill="#1d3466"/>
<circle cx="334.37" cy="356.07" r="1.0" fill="#1d3466"/>
<circle cx="328.29" cy="357.96" r="1.0" fill="#1d3466"/>
<circle cx="346.17" cy="315.80" r="1.0" fill="#c8143c"/>
<circle cx="348.59" cy="317.39" r="1.0" fill="#c8143c"/>
<circle cx="352.36" cy="319.10" r="1.0" fill="#c8143c"/>
<circle cx="354.94" cy="319.54" r="1.0" fill="#c8143c"/>
<circle cx="348.56" cy="321.03" r="1.0" fill="#c8143c"/>
<circle cx="349.96" cy="323.07" r="1.0" fill="#c8143c"/>
<circle cx="352.92" cy="338.13" r="1.0" fill="#c8143c"/>
<circle cx="356.39" cy="338.27" r="1.0" fill="#c8143c"/>
<circle cx="346.50" cy="338.71" r="1.0" fill="#c8143c"/>
<circle cx="349.27" cy="340.48" r="1.0" fill="#c8143c"/>
<circle cx="351.74" cy="341.30" r="1.0" fill="#c8143c"/>
<circle cx="354.31" cy="346.75" r="1.0" fill="#c8143c"/>
<circle cx="348.07" cy="346.91" r="1.0" fill="#c8143c"/>
<circle cx="350.37" cy="350.39" r="1.0" fill="#c8143c"/>
<circle cx="353.57" cy="357.75" r="1.0" fill="#c8143c"/>
<circle cx="355.27" cy="360.48" r="1.0" fill="#c8143c"/>
<text x="329.4" y="306.1" font-size="8.3" fill="#2a2a2a" textLength="26.5" lengthAdjust="spacingAndGlyphs"><tspan font-style="italic">P</tspan> &gt; .05</text>
<text transform="translate(287,334.4) rotate(-90)" x="0" y="0" font-size="9.8" text-anchor="middle" font-weight="bold" font-style="normal" fill="#2a2a2a" textLength="33" lengthAdjust="spacingAndGlyphs">PLT (K/uL)</text>
<text transform="translate(334.2,378.9) rotate(-45)" font-size="8.8" text-anchor="end" fill="#2a2a2a">WT</text>
<text transform="translate(353.59999999999997,378.9) rotate(-45)" font-size="8.8" text-anchor="end" fill="#2a2a2a"><tspan letter-spacing="0.35">Rpl11</tspan><tspan font-size="6.8" dy="-3.0">+/Δ</tspan></text>
<text x="396.5" y="167.9" font-size="11.9" text-anchor="start" font-weight="bold" font-style="normal" fill="#111" stroke="#111" stroke-width="0.5">F</text>
<text x="479.6" y="168.5" font-size="10.3" text-anchor="middle" font-weight="normal" font-style="normal" fill="#2a2a2a" >EPO</text>
<line x1="446.6" y1="177.7" x2="446.6" y2="279.3" stroke="#1e1e1e" stroke-width="1.3"/>
<line x1="443.20000000000005" y1="180.89999999999998" x2="446.6" y2="180.89999999999998" stroke="#1e1e1e" stroke-width="1.3"/>
<text transform="scale(0.95 1)" x="463.16" y="184.03199999999998" font-size="8.7" text-anchor="end" fill="#2a2a2a">100000</text>
<line x1="443.20000000000005" y1="200.45999999999998" x2="446.6" y2="200.45999999999998" stroke="#1e1e1e" stroke-width="1.3"/>
<text transform="scale(0.95 1)" x="463.16" y="203.59199999999998" font-size="8.7" text-anchor="end" fill="#2a2a2a">10000</text>
<line x1="443.20000000000005" y1="220.01999999999998" x2="446.6" y2="220.01999999999998" stroke="#1e1e1e" stroke-width="1.3"/>
<text transform="scale(0.95 1)" x="463.16" y="223.152" font-size="8.7" text-anchor="end" fill="#2a2a2a">1000</text>
<line x1="443.20000000000005" y1="239.57999999999998" x2="446.6" y2="239.57999999999998" stroke="#1e1e1e" stroke-width="1.3"/>
<text transform="scale(0.95 1)" x="463.16" y="242.712" font-size="8.7" text-anchor="end" fill="#2a2a2a">100</text>
<line x1="443.20000000000005" y1="259.14" x2="446.6" y2="259.14" stroke="#1e1e1e" stroke-width="1.3"/>
<text transform="scale(0.95 1)" x="463.16" y="262.272" font-size="8.7" text-anchor="end" fill="#2a2a2a">10</text>
<line x1="443.20000000000005" y1="278.7" x2="446.6" y2="278.7" stroke="#1e1e1e" stroke-width="1.3"/>
<text transform="scale(0.95 1)" x="463.16" y="281.832" font-size="8.7" text-anchor="end" fill="#2a2a2a">1</text>
<rect x="456.4" y="252.1" width="15.700000000000045" height="26.599999999999994" fill="#8796bd" />
<rect x="488" y="190" width="16" height="88.69999999999999" fill="#e5897d" />
<line x1="446.6" y1="278.7" x2="512" y2="278.7" stroke="#1e1e1e" stroke-width="1.4"/>
<line x1="464.2" y1="278.7" x2="464.2" y2="281.3" stroke="#1e1e1e" stroke-width="1.0"/>
<line x1="496" y1="278.7" x2="496" y2="281.3" stroke="#1e1e1e" stroke-width="1.0"/>
<line x1="464.2" y1="247.8" x2="464.2" y2="252.1" stroke="#1d3466" stroke-width="1.0"/>
<line x1="461.2" y1="247.8" x2="467.2" y2="247.8" stroke="#1d3466" stroke-width="1.0"/>
<line x1="495.9" y1="187.3" x2="495.9" y2="190" stroke="#9a0c2c" stroke-width="1.0"/>
<line x1="491.15" y1="187.3" x2="500.65" y2="187.3" stroke="#9a0c2c" stroke-width="1.0"/>
<circle cx="461.50" cy="243.80" r="1.4" fill="#1d3466"/>
<circle cx="467.40" cy="246.90" r="1.4" fill="#1d3466"/>
<circle cx="463.50" cy="250.30" r="1.4" fill="#1d3466"/>
<circle cx="467.40" cy="253.50" r="1.4" fill="#1d3466"/>
<circle cx="463.80" cy="267.70" r="1.4" fill="#1d3466"/>
<circle cx="490.60" cy="185.20" r="1.45" fill="#9a0c2c"/>
<circle cx="495.90" cy="186.30" r="1.45" fill="#9a0c2c"/>
<circle cx="501.20" cy="185.50" r="1.45" fill="#9a0c2c"/>
<circle cx="501.20" cy="193.80" r="1.45" fill="#9a0c2c"/>
<circle cx="495.90" cy="195.90" r="1.45" fill="#9a0c2c"/>
<circle cx="495.90" cy="200.20" r="1.45" fill="#9a0c2c"/>
<text x="461.3" y="181" font-size="8.4" fill="#2a2a2a"><tspan font-style="italic">P</tspan> &lt; .001</text>
<text x="464.2" y="292.8" font-size="8.4" text-anchor="middle" font-weight="normal" font-style="normal" fill="#2a2a2a" >WT</text>
<text x="479.4" y="292.8" font-size="8.4" text-anchor="start" font-style="normal" fill="#2a2a2a" ><tspan letter-spacing="0.35">Rpl11</tspan><tspan font-size="6.89" dy="-3.02">+/Δ</tspan></text>
<text transform="translate(404.8,227.8) rotate(-90)" x="0" y="0" font-size="9.2" text-anchor="middle" font-weight="bold" font-style="normal" fill="#2a2a2a" textLength="20.5" lengthAdjust="spacingAndGlyphs">pg/mL</text>
<text x="6.7" y="431.3" font-size="11.9" text-anchor="start" font-weight="bold" font-style="normal" fill="#111" stroke="#111" stroke-width="0.5">G</text>
<text x="82.6" y="432.2" font-size="10.4" text-anchor="middle" font-weight="normal" font-style="normal" fill="#2a2a2a" >Sternum</text>
<text x="167.6" y="431.9" font-size="10.4" text-anchor="middle" font-weight="normal" font-style="normal" fill="#2a2a2a" >Spleen</text>
<text x="251.5" y="431.9" font-size="10.4" text-anchor="middle" font-weight="normal" font-style="normal" fill="#2a2a2a" >IHC Ter-119</text>
<text x="40.8" y="468.8" font-size="8.8" text-anchor="end" font-weight="normal" font-style="normal" fill="#2a2a2a" >WT</text>
<text x="41.4" y="535" font-size="8.8" text-anchor="end" font-style="italic" fill="#2a2a2a"><tspan letter-spacing="0.5">Rpl11</tspan><tspan font-size="7" dy="-3.3">+/Δ</tspan></text>
<defs>
<filter id="hb" x="-5%" y="-5%" width="110%" height="110%"><feGaussianBlur stdDeviation="0.5"/></filter>
<filter id="soft" x="-10%" y="-10%" width="120%" height="120%"><feGaussianBlur stdDeviation="0.6"/></filter>
<filter id="soft2" x="-30%" y="-30%" width="160%" height="160%"><feGaussianBlur stdDeviation="3"/></filter>
<clipPath id="c1"><rect x="43.8" y="437.6" width="77.5" height="56"/></clipPath>
<clipPath id="c2"><rect x="43.8" y="502.1" width="77" height="55.6"/></clipPath>
<clipPath id="c3"><path d="M128.4,438.4 L159.9,438.4 C166,441 170,443 173.3,445.5 L186,458 L195.4,469 L203.3,480.2 C205.5,483 205.5,489 200,492 L186,492.8 C175,492.5 165,491 158,489.5 C149,487 138,480 128.4,472 Z"/></clipPath>
<clipPath id="c4"><path d="M127.9,502.8 L204.5,502.8 Q205.7,503 205.7,505 L205.7,512 C205.5,530 200,545 186,552 C178,556.5 168,557.6 160,557.2 C148,556 138,551 132,545 L127.9,540 Z"/></clipPath>
<clipPath id="c5"><path d="M212.8,438.8 L241.5,438.8 L247.9,447.8 L262,453.4 L273,462.8 L284,472.3 L288.9,481.7 C289.5,485 289,488 288,489.6 C283,492 275,492.6 268,492.6 L248,490.4 L233.7,486.5 L219.5,478.6 L212.8,473.9 Z"/></clipPath>
<clipPath id="c6"><path d="M212.8,502.8 L283,502.8 C288.5,504.5 291.4,511 291.4,521 C291.4,537 287,549 278,554.5 C274,556.8 269,557.6 264,557.6 L212.8,557.6 Z"/></clipPath>
<clipPath id="c3r"><rect x="128.6" y="438" width="78" height="56"/></clipPath>
<clipPath id="c4r"><rect x="127.9" y="502.8" width="77.8" height="54.8"/></clipPath>
<clipPath id="c5r"><rect x="212.8" y="438.8" width="77.8" height="55.2"/></clipPath>
<clipPath id="c6r"><rect x="212.8" y="502.8" width="78.6" height="54.8"/></clipPath>
</defs>
<g filter="url(#hb)"><g clip-path="url(#c1)">
<rect x="43.8" y="437.6" width="77.5" height="56" fill="#a876ba" />
<filter id="t1" x="0" y="0" width="100%" height="100%" color-interpolation-filters="sRGB"><feTurbulence type="fractalNoise" baseFrequency="0.15" numOctaves="3" seed="3"/><feColorMatrix type="matrix" values="0 0 0 0 0.510  0 0 0 0 0.345  0 0 0 0 0.675  3 0 0 0 -1.560"/><feGaussianBlur stdDeviation="0.5"/></filter>
<rect x="43.8" y="437.6" width="77.5" height="56" filter="url(#t1)" opacity="1"/>
<filter id="t2" x="0" y="0" width="100%" height="100%" color-interpolation-filters="sRGB"><feTurbulence type="fractalNoise" baseFrequency="0.08" numOctaves="2" seed="8"/><feColorMatrix type="matrix" values="0 0 0 0 0.800  0 0 0 0 0.549  0 0 0 0 0.737  3 0 0 0 -1.440"/><feGaussianBlur stdDeviation="0.5"/></filter>
<rect x="43.8" y="437.6" width="77.5" height="56" filter="url(#t2)" opacity="1"/>
<g opacity="0.85">
<path d="M40,440 L50,444 L60,450 L66,454" stroke="#f0dcee" stroke-width="5.0" fill="none" stroke-linecap="round" stroke-linejoin="round"/>
<path d="M40,440 L50,444 L60,450 L66,454" stroke="#d08ab6" stroke-width="3.5" fill="none" stroke-linecap="round" stroke-linejoin="round"/>
<path d="M44,452 L52,459 L62,467 L72,474 L82,481" stroke="#f0dcee" stroke-width="4.5" fill="none" stroke-linecap="round" stroke-linejoin="round"/>
<path d="M44,452 L52,459 L62,467 L72,474 L82,481" stroke="#d08ab6" stroke-width="3.0" fill="none" stroke-linecap="round" stroke-linejoin="round"/>
<path d="M56,444 L66,451 L76,458 L84,464" stroke="#f0dcee" stroke-width="3.5" fill="none" stroke-linecap="round" stroke-linejoin="round"/>
<path d="M56,444 L66,451 L76,458 L84,464" stroke="#d08ab6" stroke-width="2.0" fill="none" stroke-linecap="round" stroke-linejoin="round"/>
<path d="M90,437.5 L100,443.5 L112,450 L124,457" stroke="#f0dcee" stroke-width="6.0" fill="none" stroke-linecap="round" stroke-linejoin="round"/>
<path d="M90,437.5 L100,443.5 L112,450 L124,457" stroke="#d08ab6" stroke-width="4.5" fill="none" stroke-linecap="round" stroke-linejoin="round"/>
<path d="M92,458 L102,463.5 L112,468.5 L122,473" stroke="#f0dcee" stroke-width="4.5" fill="none" stroke-linecap="round" stroke-linejoin="round"/>
<path d="M92,458 L102,463.5 L112,468.5 L122,473" stroke="#d08ab6" stroke-width="3.0" fill="none" stroke-linecap="round" stroke-linejoin="round"/>
<path d="M40,483 L50,488 L58,494" stroke="#f0dcee" stroke-width="5.5" fill="none" stroke-linecap="round" stroke-linejoin="round"/>
<path d="M40,483 L50,488 L58,494" stroke="#d08ab6" stroke-width="4" fill="none" stroke-linecap="round" stroke-linejoin="round"/>
<path d="M80,481 L86,486 L90,494" stroke="#f0dcee" stroke-width="5.5" fill="none" stroke-linecap="round" stroke-linejoin="round"/>
<path d="M80,481 L86,486 L90,494" stroke="#d08ab6" stroke-width="4" fill="none" stroke-linecap="round" stroke-linejoin="round"/>
</g>
<filter id="t3" x="0" y="0" width="100%" height="100%" color-interpolation-filters="sRGB"><feTurbulence type="fractalNoise" baseFrequency="0.3" numOctaves="4" seed="5"/><feColorMatrix type="matrix" values="0 0 0 0 0.933  0 0 0 0 0.863  0 0 0 0 0.941  4 0 0 0 -2.240"/><feGaussianBlur stdDeviation="0.3"/></filter>
<rect x="43.8" y="437.6" width="77.5" height="56" filter="url(#t3)" opacity="1"/>
</g></g>
<g filter="url(#hb)"><g clip-path="url(#c2)">
<rect x="43.8" y="502.1" width="77" height="55.6" fill="#a878bc" />
<filter id="t4" x="0" y="0" width="100%" height="100%" color-interpolation-filters="sRGB"><feTurbulence type="fractalNoise" baseFrequency="0.12" numOctaves="3" seed="12"/><feColorMatrix type="matrix" values="0 0 0 0 0.502  0 0 0 0 0.314  0 0 0 0 0.659  3 0 0 0 -1.560"/><feGaussianBlur stdDeviation="0.5"/></filter>
<rect x="43.8" y="502.1" width="77" height="55.6" filter="url(#t4)" opacity="1"/>
<filter id="t5" x="0" y="0" width="100%" height="100%" color-interpolation-filters="sRGB"><feTurbulence type="fractalNoise" baseFrequency="0.09" numOctaves="2" seed="13"/><feColorMatrix type="matrix" values="0 0 0 0 0.800  0 0 0 0 0.565  0 0 0 0 0.753  3 0 0 0 -1.500"/><feGaussianBlur stdDeviation="0.5"/></filter>
<rect x="43.8" y="502.1" width="77" height="55.6" filter="url(#t5)" opacity="1"/>
<path d="M75,513 C76,509 82,508 86,510 C89,512 89,517 87,520 C84,523 78,523 76,520 C74,518 74,515 75,513 Z" fill="#d47aa6" stroke="#f2d8ea" stroke-width="1"/>
<path d="M93,537 C100,531 110,535 122,542" stroke="#f4e0ee" stroke-width="7" fill="none"/>
<path d="M93,538 C100,532.5 110,536.5 122,543.5" stroke="#d87aa4" stroke-width="4.2" fill="none"/>
<path d="M97,541 C104,540 114,545 122,550 L122,560 L99,560 Z" fill="#d4b4d8"/>
<path d="M42,547 C50,548 56,552 61,560 L42,560 Z" fill="#d48cb4"/>
<path d="M84,521 C86,525 88,529 92,534" stroke="#f0e4f0" stroke-width="2" fill="none"/>
<filter id="t6" x="0" y="0" width="100%" height="100%" color-interpolation-filters="sRGB"><feTurbulence type="fractalNoise" baseFrequency="0.3" numOctaves="4" seed="21"/><feColorMatrix type="matrix" values="0 0 0 0 0.957  0 0 0 0 0.918  0 0 0 0 0.965  4 0 0 0 -1.880"/><feGaussianBlur stdDeviation="0.3"/></filter>
<rect x="43.8" y="502.1" width="77" height="55.6" filter="url(#t6)" opacity="1"/>
</g></g>
<g filter="url(#hb)"><g clip-path="url(#c3)">
<rect x="128.4" y="438.4" width="78" height="55" fill="#8048a8" />
<g filter="url(#soft2)">
<ellipse cx="136" cy="455" rx="10" ry="15" fill="#5c46a6" opacity="0.8"/>
<ellipse cx="161" cy="476" rx="15" ry="12" fill="#5c46a6" opacity="0.75"/>
<ellipse cx="190" cy="478" rx="10" ry="8" fill="#9a54ae" opacity="0.6"/>
</g>
<filter id="t7" x="0" y="0" width="100%" height="100%" color-interpolation-filters="sRGB"><feTurbulence type="fractalNoise" baseFrequency="0.35" numOctaves="3" seed="31"/><feColorMatrix type="matrix" values="0 0 0 0 0.627  0 0 0 0 0.439  0 0 0 0 0.753  1.4 0 0 0 -0.700"/><feGaussianBlur stdDeviation="0.3"/></filter>
<rect x="128.4" y="438.4" width="78" height="55" filter="url(#t7)" opacity="1"/>
<filter id="t8" x="0" y="0" width="100%" height="100%" color-interpolation-filters="sRGB"><feTurbulence type="fractalNoise" baseFrequency="0.35" numOctaves="3" seed="32"/><feColorMatrix type="matrix" values="0 0 0 0 0.353  0 0 0 0 0.204  0 0 0 0 0.565  1.6 0 0 0 -0.800"/><feGaussianBlur stdDeviation="0.3"/></filter>
<rect x="128.4" y="438.4" width="78" height="55" filter="url(#t8)" opacity="1"/>
</g></g>
<g clip-path="url(#c4r)">
<rect x="127.9" y="502.8" width="77.8" height="54.8" fill="#d8d8d8" />
</g>
<g filter="url(#hb)"><g clip-path="url(#c4)">
<rect x="127.9" y="502.8" width="77.8" height="54.8" fill="#6a42a4" />
<filter id="t9" x="0" y="0" width="100%" height="100%" color-interpolation-filters="sRGB"><feTurbulence type="fractalNoise" baseFrequency="0.3" numOctaves="3" seed="41"/><feColorMatrix type="matrix" values="0 0 0 0 0.533  0 0 0 0 0.408  0 0 0 0 0.737  1.2 0 0 0 -0.600"/><feGaussianBlur stdDeviation="0.3"/></filter>
<rect x="127.9" y="502.8" width="77.8" height="54.8" filter="url(#t9)" opacity="1"/>
<filter id="t10" x="0" y="0" width="100%" height="100%" color-interpolation-filters="sRGB"><feTurbulence type="fractalNoise" baseFrequency="0.3" numOctaves="3" seed="42"/><feColorMatrix type="matrix" values="0 0 0 0 0.322  0 0 0 0 0.188  0 0 0 0 0.557  1.4 0 0 0 -0.700"/><feGaussianBlur stdDeviation="0.3"/></filter>
<rect x="127.9" y="502.8" width="77.8" height="54.8" filter="url(#t10)" opacity="1"/>
</g></g>
<g clip-path="url(#c5r)">
<rect x="212.8" y="438.8" width="77" height="54" fill="#dde2ea" />
</g>
<g filter="url(#hb)"><g clip-path="url(#c5)">
<rect x="212.8" y="438.8" width="77" height="54" fill="#6e6c80" />
<g filter="url(#soft2)">
<ellipse cx="222" cy="460" rx="9" ry="16" fill="#5c76bc" opacity="0.9"/>
<ellipse cx="247" cy="476" rx="15" ry="13" fill="#5c7ac2" opacity="1"/>
<ellipse cx="233" cy="446" rx="7" ry="5" fill="#6a80bc" opacity="0.55"/>
</g>
<filter id="t11" x="0" y="0" width="100%" height="100%" color-interpolation-filters="sRGB"><feTurbulence type="fractalNoise" baseFrequency="0.6" numOctaves="3" seed="51"/><feColorMatrix type="matrix" values="0 0 0 0 0.306  0 0 0 0 0.267  0 0 0 0 0.282  1.6 0 0 0 -0.752"/></filter>
<rect x="212.8" y="438.8" width="77" height="54" filter="url(#t11)" opacity="1"/>
<filter id="t12" x="0" y="0" width="100%" height="100%" color-interpolation-filters="sRGB"><feTurbulence type="fractalNoise" baseFrequency="0.6" numOctaves="3" seed="52"/><feColorMatrix type="matrix" values="0 0 0 0 0.706  0 0 0 0 0.722  0 0 0 0 0.800  1.4 0 0 0 -0.700"/></filter>
<rect x="212.8" y="438.8" width="77" height="54" filter="url(#t12)" opacity="1"/>
</g></g>
<g clip-path="url(#c6r)">
<rect x="212.8" y="502.8" width="78.6" height="54.8" fill="#e6e6e8" />
</g>
<g filter="url(#hb)"><g clip-path="url(#c6)">
<rect x="212.8" y="502.8" width="78.6" height="54.8" fill="#958680" />
<g filter="url(#soft2)">
<ellipse cx="240" cy="545" rx="10" ry="6" fill="#8290b8" opacity="0.6"/>
<ellipse cx="262" cy="534" rx="6" ry="10" fill="#8290b8" opacity="0.55"/>
<ellipse cx="232" cy="512" rx="8" ry="5" fill="#8290b8" opacity="0.45"/>
<ellipse cx="255" cy="515" rx="10" ry="8" fill="#8c6a60" opacity="0.4"/>
</g>
<filter id="t13" x="0" y="0" width="100%" height="100%" color-interpolation-filters="sRGB"><feTurbulence type="fractalNoise" baseFrequency="0.6" numOctaves="3" seed="61"/><feColorMatrix type="matrix" values="0 0 0 0 0.369  0 0 0 0 0.290  0 0 0 0 0.267  1.8 0 0 0 -0.810"/></filter>
<rect x="212.8" y="502.8" width="78.6" height="54.8" filter="url(#t13)" opacity="1"/>
<filter id="t14" x="0" y="0" width="100%" height="100%" color-interpolation-filters="sRGB"><feTurbulence type="fractalNoise" baseFrequency="0.6" numOctaves="3" seed="62"/><feColorMatrix type="matrix" values="0 0 0 0 0.769  0 0 0 0 0.753  0 0 0 0 0.800  1.8 0 0 0 -0.810"/></filter>
<rect x="212.8" y="502.8" width="78.6" height="54.8" filter="url(#t14)" opacity="1"/>
</g></g>
<line x1="86" y1="444.2" x2="80.2037862500843" y2="449.8644816192358" stroke="#111" stroke-width="1.1"/>
<path d="M77.20,452.80 L78.67,448.29 L81.74,451.44 Z" fill="#111"/>
<line x1="110.5" y1="521.8" x2="104.78933579554081" y2="529.093137417743" stroke="#111" stroke-width="1.1"/>
<path d="M102.20,532.40 L103.06,527.74 L106.52,530.45 Z" fill="#111"/>
<line x1="178.8" y1="449.7" x2="174.46847884053707" y2="454.64159456220415" stroke="#111" stroke-width="1.1"/>
<path d="M171.70,457.80 L172.81,453.19 L176.12,456.09 Z" fill="#111"/>
<line x1="174.1" y1="508.7" x2="170.41864706266145" y2="513.3162997150753" stroke="#111" stroke-width="1.1"/>
<path d="M167.80,516.60 L168.70,511.94 L172.14,514.69 Z" fill="#111"/>
<line x1="266.7" y1="453.8" x2="262.0394160415318" y2="459.2163543301117" stroke="#111" stroke-width="1.1"/>
<path d="M259.30,462.40 L260.37,457.78 L263.71,460.65 Z" fill="#111"/>
<line x1="279.2" y1="503.5" x2="275.0041630943645" y2="508.4863569023494" stroke="#111" stroke-width="1.1"/>
<path d="M272.30,511.70 L273.32,507.07 L276.69,509.90 Z" fill="#111"/>
<text x="105.8" y="492.8" font-size="8.3" text-anchor="start" font-weight="normal" font-style="normal" fill="#111" >20X</text>
<text x="105.2" y="555.8" font-size="8.3" text-anchor="start" font-weight="normal" font-style="normal" fill="#111" >20X</text>
<text x="130.7" y="492.8" font-size="8.3" text-anchor="start" font-weight="normal" font-style="normal" fill="#111" >10X</text>
<text x="130.2" y="556.2" font-size="8.3" text-anchor="start" font-weight="normal" font-style="normal" fill="#111" >10X</text>
<text x="214.8" y="492.8" font-size="8.3" text-anchor="start" font-weight="normal" font-style="normal" fill="#111" >10X</text>
<text x="214.6" y="556.2" font-size="8.3" text-anchor="start" font-weight="normal" font-style="normal" fill="#111" >10X</text>
<text x="309.6" y="431.5" font-size="11.9" text-anchor="start" font-weight="bold" font-style="normal" fill="#111" stroke="#111" stroke-width="0.5">H</text>
<line x1="345.2" y1="438" x2="345.2" y2="532.0" stroke="#1e1e1e" stroke-width="1.2"/>
<line x1="343.8" y1="532.0" x2="345.2" y2="532.0" stroke="#333" stroke-width="1.0"/>
<line x1="343.8" y1="527.86" x2="345.2" y2="527.86" stroke="#333" stroke-width="1.0"/>
<line x1="343.8" y1="523.72" x2="345.2" y2="523.72" stroke="#333" stroke-width="1.0"/>
<line x1="343.8" y1="519.58" x2="345.2" y2="519.58" stroke="#333" stroke-width="1.0"/>
<line x1="343.8" y1="515.44" x2="345.2" y2="515.44" stroke="#333" stroke-width="1.0"/>
<line x1="343.8" y1="511.3" x2="345.2" y2="511.3" stroke="#333" stroke-width="1.0"/>
<line x1="343.8" y1="507.15999999999997" x2="345.2" y2="507.15999999999997" stroke="#333" stroke-width="1.0"/>
<line x1="343.8" y1="503.02" x2="345.2" y2="503.02" stroke="#333" stroke-width="1.0"/>
<line x1="343.8" y1="498.88" x2="345.2" y2="498.88" stroke="#333" stroke-width="1.0"/>
<line x1="343.8" y1="494.74" x2="345.2" y2="494.74" stroke="#333" stroke-width="1.0"/>
<line x1="343.8" y1="490.6" x2="345.2" y2="490.6" stroke="#333" stroke-width="1.0"/>
<line x1="343.8" y1="486.46" x2="345.2" y2="486.46" stroke="#333" stroke-width="1.0"/>
<line x1="343.8" y1="482.32" x2="345.2" y2="482.32" stroke="#333" stroke-width="1.0"/>
<line x1="343.8" y1="478.18" x2="345.2" y2="478.18" stroke="#333" stroke-width="1.0"/>
<line x1="343.8" y1="474.03999999999996" x2="345.2" y2="474.03999999999996" stroke="#333" stroke-width="1.0"/>
<line x1="343.8" y1="469.9" x2="345.2" y2="469.9" stroke="#333" stroke-width="1.0"/>
<line x1="343.8" y1="465.76" x2="345.2" y2="465.76" stroke="#333" stroke-width="1.0"/>
<line x1="343.8" y1="461.62" x2="345.2" y2="461.62" stroke="#333" stroke-width="1.0"/>
<line x1="343.8" y1="457.48" x2="345.2" y2="457.48" stroke="#333" stroke-width="1.0"/>
<line x1="343.8" y1="453.34" x2="345.2" y2="453.34" stroke="#333" stroke-width="1.0"/>
<line x1="343.8" y1="449.2" x2="345.2" y2="449.2" stroke="#333" stroke-width="1.0"/>
<line x1="343.8" y1="445.06" x2="345.2" y2="445.06" stroke="#333" stroke-width="1.0"/>
<line x1="343.8" y1="440.91999999999996" x2="345.2" y2="440.91999999999996" stroke="#333" stroke-width="1.0"/>
<line x1="342.0" y1="449.2" x2="345.2" y2="449.2" stroke="#1e1e1e" stroke-width="1.1"/>
<text transform="scale(0.95 1)" x="357.89" y="452.5" font-size="9.2" text-anchor="end" fill="#2a2a2a">100</text>
<line x1="342.0" y1="490.6" x2="345.2" y2="490.6" stroke="#1e1e1e" stroke-width="1.1"/>
<text transform="scale(0.95 1)" x="357.89" y="493.90000000000003" font-size="9.2" text-anchor="end" fill="#2a2a2a">50</text>
<line x1="342.0" y1="532.0" x2="345.2" y2="532.0" stroke="#1e1e1e" stroke-width="1.1"/>
<text transform="scale(0.95 1)" x="357.89" y="535.3" font-size="9.2" text-anchor="end" fill="#2a2a2a">0</text>
<line x1="345.2" y1="532.0" x2="485" y2="532.0" stroke="#1e1e1e" stroke-width="1.4"/>
<line x1="345.2" y1="532.0" x2="345.2" y2="534.8" stroke="#1e1e1e" stroke-width="1.0"/>
<text transform="scale(0.95 1)" x="363.37" y="545.8" font-size="9.0" text-anchor="middle" fill="#2a2a2a">0</text>
<line x1="372.7" y1="532.0" x2="372.7" y2="534.8" stroke="#1e1e1e" stroke-width="1.0"/>
<text transform="scale(0.95 1)" x="392.32" y="545.8" font-size="9.0" text-anchor="middle" fill="#2a2a2a">10</text>
<line x1="400.2" y1="532.0" x2="400.2" y2="534.8" stroke="#1e1e1e" stroke-width="1.0"/>
<text transform="scale(0.95 1)" x="421.26" y="545.8" font-size="9.0" text-anchor="middle" fill="#2a2a2a">20</text>
<line x1="427.7" y1="532.0" x2="427.7" y2="534.8" stroke="#1e1e1e" stroke-width="1.0"/>
<text transform="scale(0.95 1)" x="450.21" y="545.8" font-size="9.0" text-anchor="middle" fill="#2a2a2a">30</text>
<line x1="455.2" y1="532.0" x2="455.2" y2="534.8" stroke="#1e1e1e" stroke-width="1.0"/>
<text transform="scale(0.95 1)" x="479.16" y="545.8" font-size="9.0" text-anchor="middle" fill="#2a2a2a">40</text>
<line x1="482.7" y1="532.0" x2="482.7" y2="534.8" stroke="#1e1e1e" stroke-width="1.0"/>
<text transform="scale(0.95 1)" x="508.11" y="545.8" font-size="9.0" text-anchor="middle" fill="#2a2a2a">50</text>
<text x="393.5" y="560.2" font-size="9.6" fill="#2a2a2a" stroke="#2a2a2a" stroke-width="0.25" textLength="43.5" lengthAdjust="spacingAndGlyphs">Survival (wks)</text>
<text transform="translate(318.6,485) rotate(-90)" x="0" y="0" font-size="10.6" text-anchor="middle" font-weight="normal" font-style="normal" fill="#2a2a2a" stroke="#2a2a2a" stroke-width="0.25" textLength="66" lengthAdjust="spacingAndGlyphs">Probability of survival</text>
<path d="M372.70,449.2 L372.70,449.20 L372.70,454.38 L389.20,454.38 L389.20,459.55 L411.20,459.55 L411.20,469.90 L413.95,469.90 L413.95,480.25 L416.70,480.25 L416.70,490.60 L419.45,490.60 L419.45,500.95 L427.70,500.95 L427.70,516.48 L438.70,516.48 L438.70,516.48" stroke="#c8304e" stroke-width="1.2" fill="none"/>
<line x1="435.95" y1="514.075" x2="435.95" y2="516.475" stroke="#c8304e" stroke-width="1.0"/>
<line x1="438.7" y1="514.075" x2="438.7" y2="516.475" stroke="#c8304e" stroke-width="1.0"/>
<line x1="345.2" y1="449.2" x2="468.95" y2="449.2" stroke="#4a78ae" stroke-width="1.2"/>
<line x1="435.95" y1="446.8" x2="435.95" y2="449.2" stroke="#4a78ae" stroke-width="1.0"/>
<line x1="438.7" y1="446.8" x2="438.7" y2="449.2" stroke="#4a78ae" stroke-width="1.0"/>
<line x1="468.95" y1="446.8" x2="468.95" y2="449.2" stroke="#4a78ae" stroke-width="1.0"/>
<line x1="430.3" y1="465.8" x2="440.5" y2="465.8" stroke="#4a78ae" stroke-width="1.2"/>
<line x1="435.4" y1="464" x2="435.4" y2="465.8" stroke="#4a78ae" stroke-width="1.0"/>
<text x="443.5" y="468.6" font-size="8.3" text-anchor="start" font-weight="normal" font-style="normal" fill="#2a2a2a" >WT (N = 16)</text>
<line x1="430.3" y1="478.5" x2="440.5" y2="478.5" stroke="#c8304e" stroke-width="1.2"/>
<line x1="435.4" y1="476.7" x2="435.4" y2="478.5" stroke="#c8304e" stroke-width="1.0"/>
<text x="443.5" y="481.3" font-size="8.3" fill="#2a2a2a"><tspan letter-spacing="0.3">Rpl11</tspan><tspan font-size="6.8" dy="-3.1">+/Δ</tspan><tspan dy="3.1"> (N = 16)</tspan></text>
<text x="450.4" y="497.6" font-size="8.4" fill="#2a2a2a"><tspan font-style="italic">P</tspan> &lt; .001</text>
<rect x="0.5" y="0.5" width="519" height="569" fill="none" stroke="#505050" stroke-width="1.2"/>
</svg></body></html>
